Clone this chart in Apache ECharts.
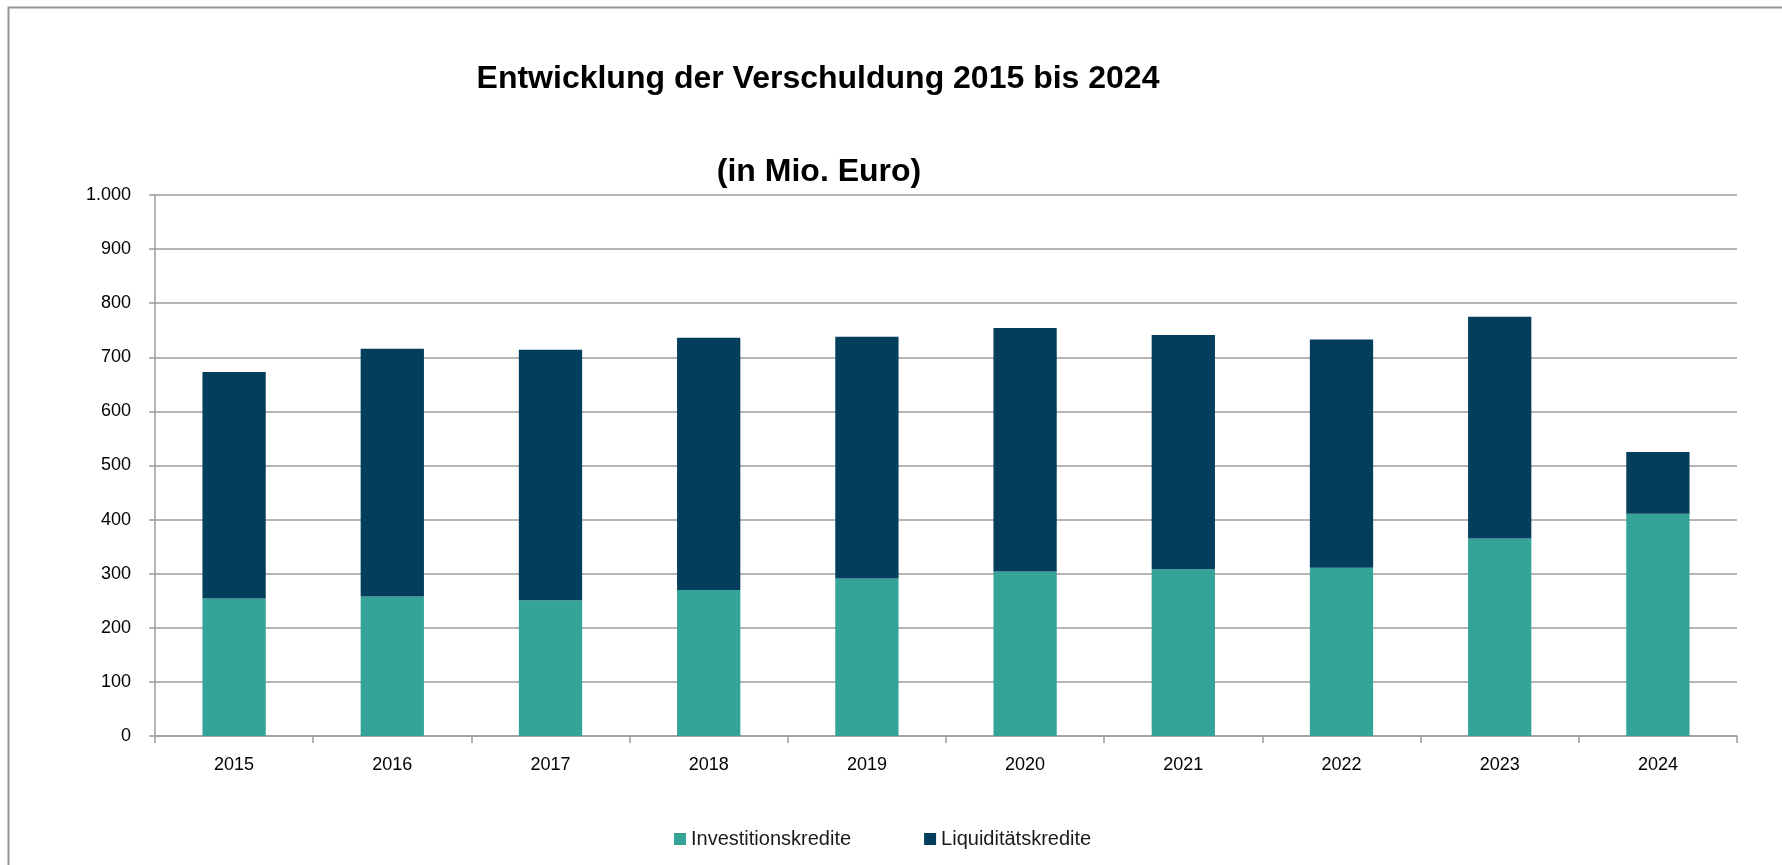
<!DOCTYPE html>
<html>
<head>
<meta charset="utf-8">
<script src="https://cdn.jsdelivr.net/npm/echarts@6/dist/echarts.min.js"></script>
<style>
html,body{margin:0;padding:0;background:#fff;}
#chart{width:1782px;height:865px;}
</style>
</head>
<body>
<div id="chart"></div>
<script>
const categories = ['2015','2016','2017','2018','2019','2020','2021','2022','2023','2024'];
const investitionskredite = [254, 258, 251, 270, 291, 304, 308, 311, 365, 411];
const liquiditaetskredite = [419, 458, 463, 466, 447, 450, 433, 422, 410, 114];
const seriesNames = ['Investitionskredite', 'Liquiditätskredite'];
const titleText = 'Entwicklung der Verschuldung 2015 bis 2024';
const subtitleText = '(in Mio. Euro)';

const FONT = '"Liberation Sans", Arial, sans-serif';
const GRID_COLOR = '#a09a9c';

const chart = echarts.init(document.getElementById('chart'), null, {renderer: 'canvas'});
chart.setOption({
  animation: false,
  backgroundColor: '#ffffff',
  textStyle: {fontFamily: FONT},
  title: [
    {text: titleText, left: 818, top: 63, padding: 0, textAlign: 'center',
     textStyle: {fontFamily: FONT, fontSize: 32, fontWeight: 'bold', color: '#000'}},
    {text: subtitleText, left: 819, top: 156, padding: 0, textAlign: 'center',
     textStyle: {fontFamily: FONT, fontSize: 32, fontWeight: 'bold', color: '#000'}}
  ],
  graphic: [{
    type: 'rect', silent: true, z: -1,
    shape: {x: 8.5, y: 7.5, width: 1800, height: 900},
    style: {fill: 'none', stroke: '#9a9396', lineWidth: 2}
  }],
  legend: {
    data: seriesNames,
    left: 674, top: 829, padding: 0,
    itemWidth: 12, itemHeight: 12, itemGap: 73,
    icon: 'rect',
    textStyle: {fontFamily: FONT, fontSize: 20, color: '#1a1a1a'}
  },
  grid: {left: 155, right: 45, top: 195, bottom: 129, containLabel: false},
  xAxis: {
    type: 'category',
    data: categories,
    boundaryGap: true,
    axisLine: {show: true, lineStyle: {color: GRID_COLOR, width: 1.5}},
    axisTick: {show: true, length: 7, alignWithLabel: false, lineStyle: {color: GRID_COLOR, width: 1.5}},
    axisLabel: {margin: 20, fontFamily: FONT, fontSize: 18, color: '#000'}
  },
  yAxis: {
    type: 'value',
    min: 0, max: 1000, interval: 100,
    axisLine: {show: true, lineStyle: {color: GRID_COLOR, width: 1.5}},
    axisTick: {show: true, length: 6, lineStyle: {color: GRID_COLOR, width: 1.5}},
    splitLine: {show: true, lineStyle: {color: GRID_COLOR, width: 1.5}},
    axisLabel: {
      margin: 24, fontFamily: FONT, fontSize: 18, color: '#000',
      formatter: function (v) { return v >= 1000 ? (Math.floor(v/1000) + '.' + String(v%1000).padStart(3,'0')) : String(v); }
    }
  },
  series: [
    {name: seriesNames[0], type: 'bar', stack: 'total', data: investitionskredite,
     barWidth: '40%', itemStyle: {color: '#34a398'}},
    {name: seriesNames[1], type: 'bar', stack: 'total', data: liquiditaetskredite,
     barWidth: '40%', itemStyle: {color: '#033e5c'}}
  ]
});
</script>
</body>
</html>
